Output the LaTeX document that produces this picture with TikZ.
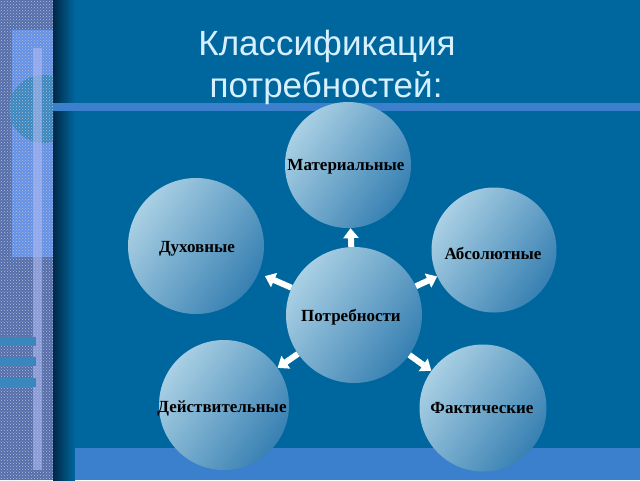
\documentclass[tikz,border=0pt]{standalone}
\usepackage{fontspec}
\setmainfont{Liberation Serif}
\newfontfamily\titlefont{Liberation Sans}
\usetikzlibrary{arrows.meta,patterns}

\begin{document}
\begin{tikzpicture}[
        x=1pt, y=-1pt,
        need/.style={circle, inner sep=0pt, top color=needlight, bottom color=needdark, shading angle=55},
        need_label/.style={font=\bfseries\fontsize{17}{19}\selectfont, text=black},
        title_text/.style={font=\titlefont\fontsize{35}{40}\selectfont, anchor=base, text=titletext},
        block_arrow/.style={draw=white, line width=6pt, -{Triangle[width=15pt, length=10pt]}}
    ]

        \definecolor{slideblue}{RGB}{0, 103, 158}
        \definecolor{stripeblue}{RGB}{58, 128, 204}
        \definecolor{needlight}{RGB}{170, 208, 228}
        \definecolor{needdark}{RGB}{55, 128, 178}
        \definecolor{titletext}{RGB}{215, 240, 255}
        \definecolor{panelbase}{RGB}{85, 110, 170}
        \definecolor{panellight}{RGB}{100, 145, 230}
        \definecolor{panelteal}{RGB}{58, 135, 190}
        \definecolor{panelbar}{RGB}{175, 185, 240}
        \definecolor{edgedark}{RGB}{0, 40, 70}

        \useasboundingbox (0,0) rectangle (640,480);

        % background
        \fill[slideblue] (0,0) rectangle (640,480);
        \fill[left color=edgedark, right color=slideblue] (53,0) rectangle (75,480);
        \fill[stripeblue] (53,103) rectangle (640,111);
        \fill[stripeblue] (75,448) rectangle (640,480);

        % left panel
        \fill[panelbase] (0,0) rectangle (53,480);
        \fill[panellight] (12,30) rectangle (53,257);
        \begin{scope}
            \clip (0,0) rectangle (53,480);
            \fill[panelteal] (43,109) circle (34);
        \end{scope}
        \fill[pattern=crosshatch dots, pattern color=white!55!panelbase] (0,0) rectangle (53,480);
        \fill[panelbar, opacity=0.6] (33,48) rectangle (42,470);
        \foreach \y in {337, 357, 378}
            \fill[panelteal] (0,\y) rectangle (36,\y+9);

        % title
        \node[title_text] (title1) at (327,55) {Классификация};
        \node[title_text] (title2) at (326,97) {потребностей:};

        % needs
        \node[need, minimum size=136pt] (potr) at (354,315) {};
        \node[need_label] (potrlabel) at (351,317) {Потребности};

        \node[need, minimum size=126pt] (mat) at (348,165) {};
        \node[need_label] (matlabel) at (346,167) {Материальные};

        \node[need, minimum size=136pt] (duh) at (196,246) {};
        \node[need_label] (duhlabel) at (197,249) {Духовные};

        \node[need, minimum size=125pt] (abs) at (494,250) {};
        \node[need_label] (abslabel) at (493,253) {Абсолютные};

        \node[need, minimum size=130pt] (deist) at (224,405) {};
        \node[need_label] (deistlabel) at (222,408) {Действительные};

        \node[need, minimum size=127pt] (fakt) at (483,408) {};
        \node[need_label] (faktlabel) at (482,408) {Фактические};

        \draw[block_arrow] (potr) -- (mat);
        \draw[block_arrow, shorten >=7pt] (potr) -- (duh);
        \draw[block_arrow] (potr) -- (abs);
        \draw[block_arrow] (potr) -- (deist);
        \draw[block_arrow] (potr) -- (fakt);
    \end{tikzpicture}
\end{document}
